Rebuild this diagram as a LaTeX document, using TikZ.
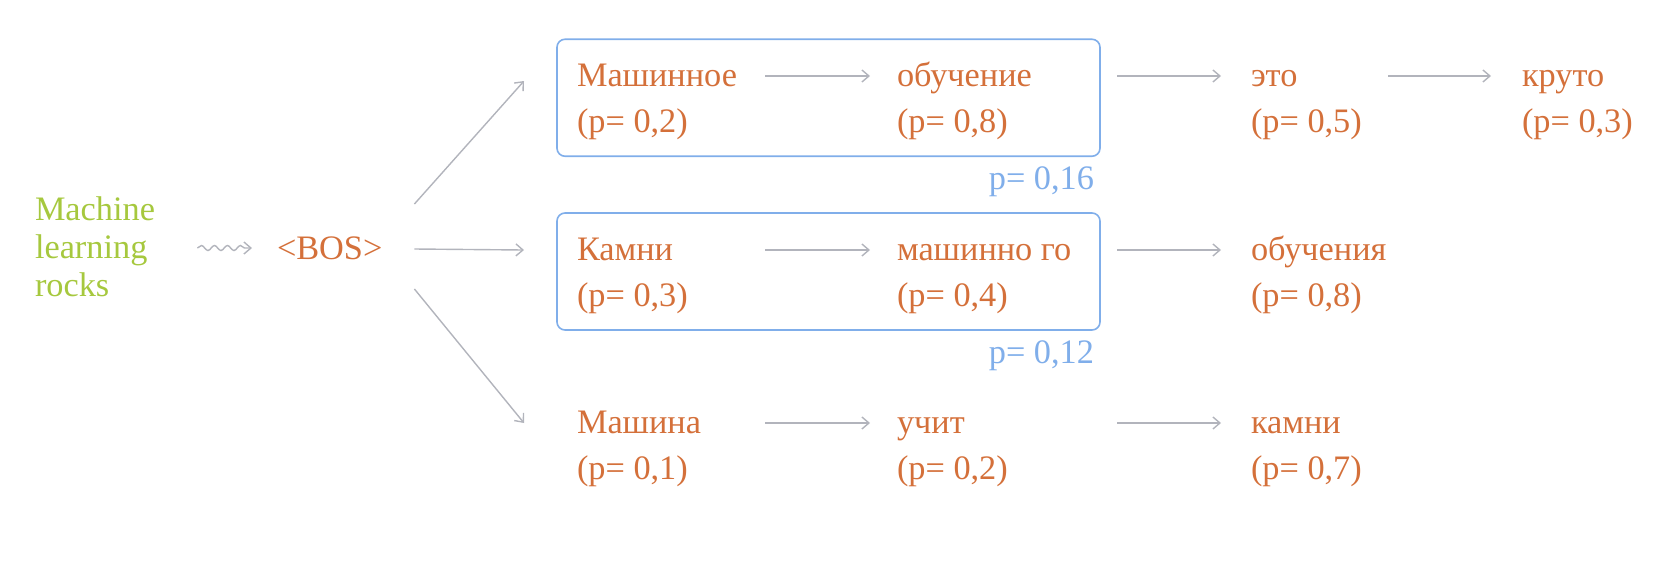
\documentclass[tikz,border=0pt]{standalone}
\usepackage{fontspec}
\setmainfont{Liberation Serif}
\usetikzlibrary{arrows.meta,decorations.pathmorphing,calc}
\definecolor{orng}{RGB}{212,112,58}
\definecolor{grn}{RGB}{166,200,62}
\definecolor{blu}{RGB}{128,174,234}
\definecolor{gry}{RGB}{178,180,188}
\begin{document}
\begin{tikzpicture}[x=1pt,y=-1pt,
  every node/.style={inner sep=0pt, outer sep=0pt, font=\fontsize{34.3}{41}\selectfont},
  word/.style={anchor=base west, text=orng},
  gtext/.style={anchor=base west, text=grn},
  plab/.style={anchor=base east, text=blu},
  arr/.style={draw=gry, line width=1.4pt, -{Straight Barb[length=7pt,width=12pt]}},
  squig/.style={draw=gry, line width=1.4pt, decorate,
    decoration={snake, amplitude=2.5pt, segment length=13pt, post length=6pt},
    -{Straight Barb[length=7pt,width=12pt]}},
  grpbox/.style={draw=blu, line width=1.6pt, rounded corners=8pt,
    minimum width=543pt, minimum height=117pt}]
\useasboundingbox (0,0) rectangle (1654,574);

% input text
\node[gtext] (g1) at (35,220) {Machine};
\node[gtext] (g2) at (35,258) {learning};
\node[gtext] (g3) at (35,296) {rocks};
\node[word] (bos) at (277,259) {<BOS>};

% boxes
\node[grpbox] (b1) at (828.5,97.75) {};
\node[grpbox] (b2) at (828.5,271.5) {};

% row 1
\node[word] (w11) at (577,86) {Машинное};
\node[word] (p11) at (577,132) {(p= 0,2)};
\node[word] (w12) at (897,86) {обучение};
\node[word] (p12) at (897,132) {(p= 0,8)};
\node[word] (w13) at (1251,86) {это};
\node[word] (p13) at (1251,132) {(p= 0,5)};
\node[word] (w14) at (1522,86) {круто};
\node[word] (p14) at (1522,132) {(p= 0,3)};
\node[plab] (l1) at (1094,189) {p= 0,16};

% row 2
\node[word] (w21) at (577,260) {Камни};
\node[word] (p21) at (577,306) {(p= 0,3)};
\node[word] (w22) at (897,260) {машинно го};
\node[word] (p22) at (897,306) {(p= 0,4)};
\node[word] (w23) at (1251,260) {обучения};
\node[word] (p23) at (1251,306) {(p= 0,8)};
\node[plab] (l2) at (1094,363) {p= 0,12};

% row 3
\node[word] (w31) at (577,433) {Машина};
\node[word] (p31) at (577,479) {(p= 0,1)};
\node[word] (w32) at (897,433) {учит};
\node[word] (p32) at (897,479) {(p= 0,2)};
\node[word] (w33) at (1251,433) {камни};
\node[word] (p33) at (1251,479) {(p= 0,7)};

% squiggle
\draw[squig] ($(g2.base east)+(50,-10)$) -- ($(bos.base west)+(-25,-11)$);

% BOS fan-out
\draw[arr] ($(bos.base east)+(32,-55)$) -- ($(w11.base west)+(-53,-5)$);
\draw[arr] ($(bos.base east)+(32,-10)$) -- ($(w21.base west)+(-53,-10)$);
\draw[arr] ($(bos.base east)+(32,30)$) -- ($(w31.base west)+(-53,-10)$);

% row 1 arrows
\draw[arr] ($(w11.base west)+(188,-10)$) -- ($(w12.base west)+(-27,-10)$);
\draw[arr] ($(b1.east |- w13.base)+(17,-10)$) -- ($(w13.base west)+(-30,-10)$);
\draw[arr] ($(w13.base west)+(137,-10)$) -- ($(w14.base west)+(-31,-10)$);

% row 2 arrows
\draw[arr] ($(w21.base west)+(188,-10)$) -- ($(w22.base west)+(-27,-10)$);
\draw[arr] ($(b2.east |- w23.base)+(17,-10)$) -- ($(w23.base west)+(-30,-10)$);

% row 3 arrows
\draw[arr] ($(w31.base west)+(188,-10)$) -- ($(w32.base west)+(-27,-10)$);
\draw[arr] ($(w32.base west)+(220,-10)$) -- ($(w33.base west)+(-30,-10)$);
\end{tikzpicture}
\end{document}
